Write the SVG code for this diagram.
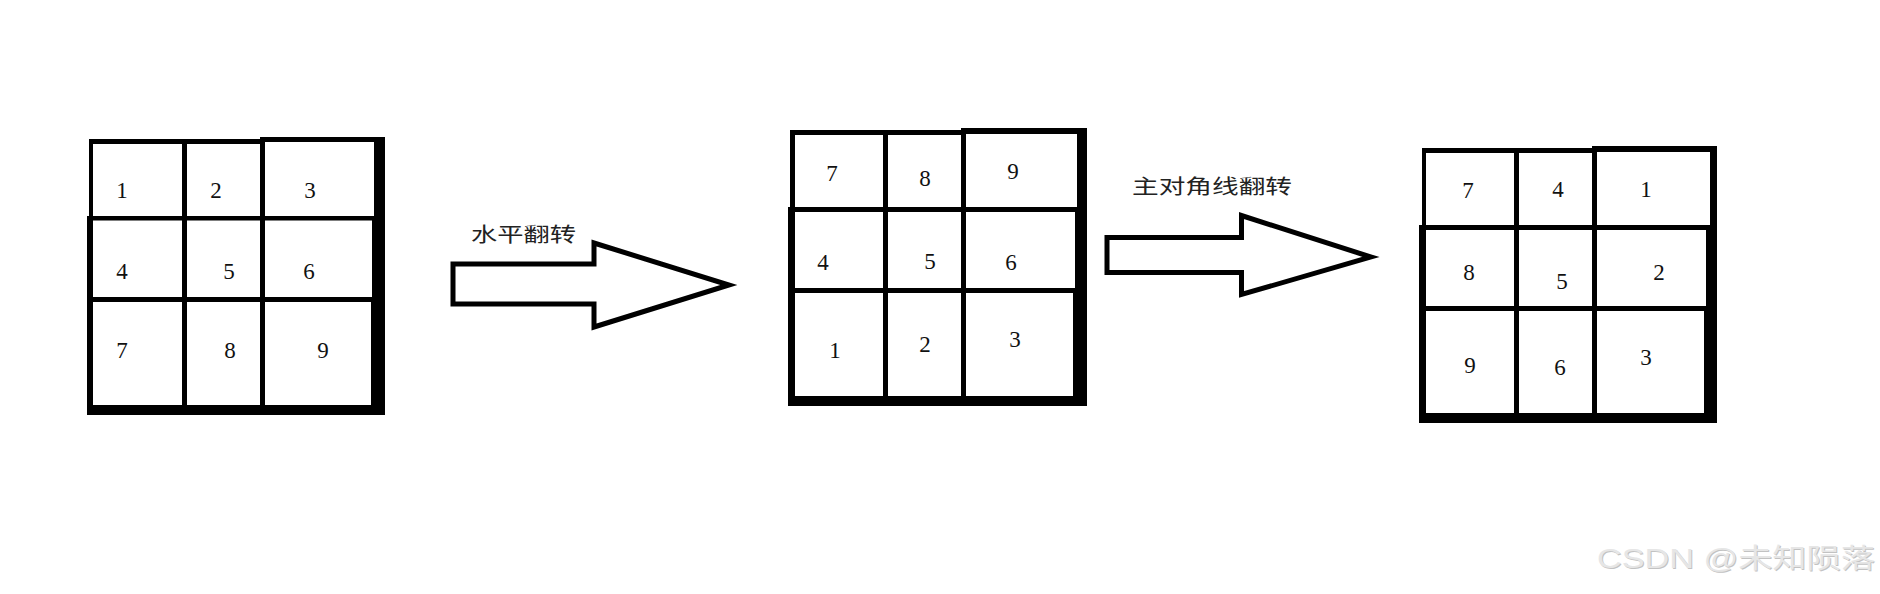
<svg xmlns="http://www.w3.org/2000/svg" width="1880" height="594" viewBox="0 0 1880 594">
<style>
.ln{fill:#000}
.num{font-family:"Liberation Serif","DejaVu Serif",serif;font-size:23px;fill:#111;text-anchor:middle}
.lbl{font-family:"Noto Sans CJK SC","Noto Sans",sans-serif;font-size:20px;fill:#222}
.arrow{fill:#fff;stroke:#000;stroke-width:5;stroke-linejoin:miter}
.wm{font-family:"Liberation Sans","Noto Sans CJK SC",sans-serif;font-size:27px}
</style>
<rect width="1880" height="594" fill="#fff"/>

<g id="grid-original">
<rect class="ln" x="89" y="139" width="173" height="5"/>
<rect class="ln" x="260" y="137" width="125" height="5"/>
<rect class="ln" x="89" y="139" width="4" height="80"/>
<rect class="ln" x="87" y="216" width="6" height="199"/>
<rect class="ln" x="374" y="137" width="11" height="278"/>
<rect class="ln" x="372" y="218" width="3" height="84"/>
<rect class="ln" x="371" y="300" width="4" height="106"/>
<rect class="ln" x="87" y="405" width="298" height="10"/>
<rect class="ln" x="182" y="142" width="5" height="265"/>
<rect class="ln" x="260" y="140" width="5" height="267"/>
<rect class="ln" x="87" y="216" width="288" height="4.5"/>
<rect class="ln" x="87" y="297" width="288" height="5"/>
<text class="num" x="122" y="198">1</text>
<text class="num" x="216" y="198">2</text>
<text class="num" x="310" y="198">3</text>
<text class="num" x="122" y="279">4</text>
<text class="num" x="229" y="279">5</text>
<text class="num" x="309" y="279">6</text>
<text class="num" x="122" y="358">7</text>
<text class="num" x="230" y="358">8</text>
<text class="num" x="323" y="358">9</text>
</g>

<g id="grid-hflip">
<rect class="ln" x="790" y="130" width="174" height="5"/>
<rect class="ln" x="961" y="128" width="126" height="6"/>
<rect class="ln" x="790" y="130" width="5" height="80"/>
<rect class="ln" x="788" y="207" width="7" height="199"/>
<rect class="ln" x="1077" y="128" width="10" height="278"/>
<rect class="ln" x="1075" y="209" width="3" height="82"/>
<rect class="ln" x="1073" y="290" width="5" height="108"/>
<rect class="ln" x="788" y="396" width="299" height="10"/>
<rect class="ln" x="883" y="133" width="5" height="265"/>
<rect class="ln" x="961" y="131" width="5" height="267"/>
<rect class="ln" x="788" y="207" width="289" height="5"/>
<rect class="ln" x="788" y="288" width="289" height="5"/>
<text class="num" x="832" y="181">7</text>
<text class="num" x="925" y="186">8</text>
<text class="num" x="1013" y="179">9</text>
<text class="num" x="823" y="270">4</text>
<text class="num" x="930" y="269">5</text>
<text class="num" x="1011" y="270">6</text>
<text class="num" x="835" y="358">1</text>
<text class="num" x="925" y="352">2</text>
<text class="num" x="1015" y="347">3</text>
</g>

<g id="grid-transpose">
<rect class="ln" x="1422" y="148" width="174" height="5"/>
<rect class="ln" x="1592" y="146" width="125" height="6"/>
<rect class="ln" x="1422" y="148" width="4" height="80"/>
<rect class="ln" x="1419" y="225" width="7" height="198"/>
<rect class="ln" x="1710" y="146" width="7" height="277"/>
<rect class="ln" x="1706" y="227" width="5" height="82"/>
<rect class="ln" x="1704" y="308" width="7" height="107"/>
<rect class="ln" x="1419" y="413" width="298" height="10"/>
<rect class="ln" x="1514" y="151" width="5" height="264"/>
<rect class="ln" x="1592" y="149" width="5" height="266"/>
<rect class="ln" x="1419" y="225" width="291" height="5"/>
<rect class="ln" x="1419" y="306" width="291" height="5"/>
<text class="num" x="1468" y="198">7</text>
<text class="num" x="1558" y="197">4</text>
<text class="num" x="1646" y="197">1</text>
<text class="num" x="1469" y="280">8</text>
<text class="num" x="1562" y="289">5</text>
<text class="num" x="1659" y="280">2</text>
<text class="num" x="1470" y="373">9</text>
<text class="num" x="1560" y="375">6</text>
<text class="num" x="1646" y="365">3</text>
</g>

<g id="connectors">
<g id="arrow-hflip">
<polygon class="arrow" points="453,264 594,264 594,243 729,285 594,327 594,304 453,304"/>
<text class="lbl" x="471" y="242" textLength="105" lengthAdjust="spacingAndGlyphs">水平翻转</text>
</g>
<g id="arrow-transpose">
<polygon class="arrow" points="1107,237.5 1241.5,237.5 1241.5,215.5 1371,257 1241.5,294.5 1241.5,272.5 1107,272.5"/>
<text class="lbl" x="1132" y="194" textLength="160" lengthAdjust="spacingAndGlyphs">主对角线翻转</text>
</g>
</g>

<g id="watermark">
<text class="wm" x="1598" y="569" fill="#c2c2c2" textLength="278" lengthAdjust="spacingAndGlyphs">CSDN @未知陨落</text>
<text class="wm" x="1597" y="568" fill="#e6e6e6" textLength="278" lengthAdjust="spacingAndGlyphs">CSDN @未知陨落</text>
</g>
</svg>
